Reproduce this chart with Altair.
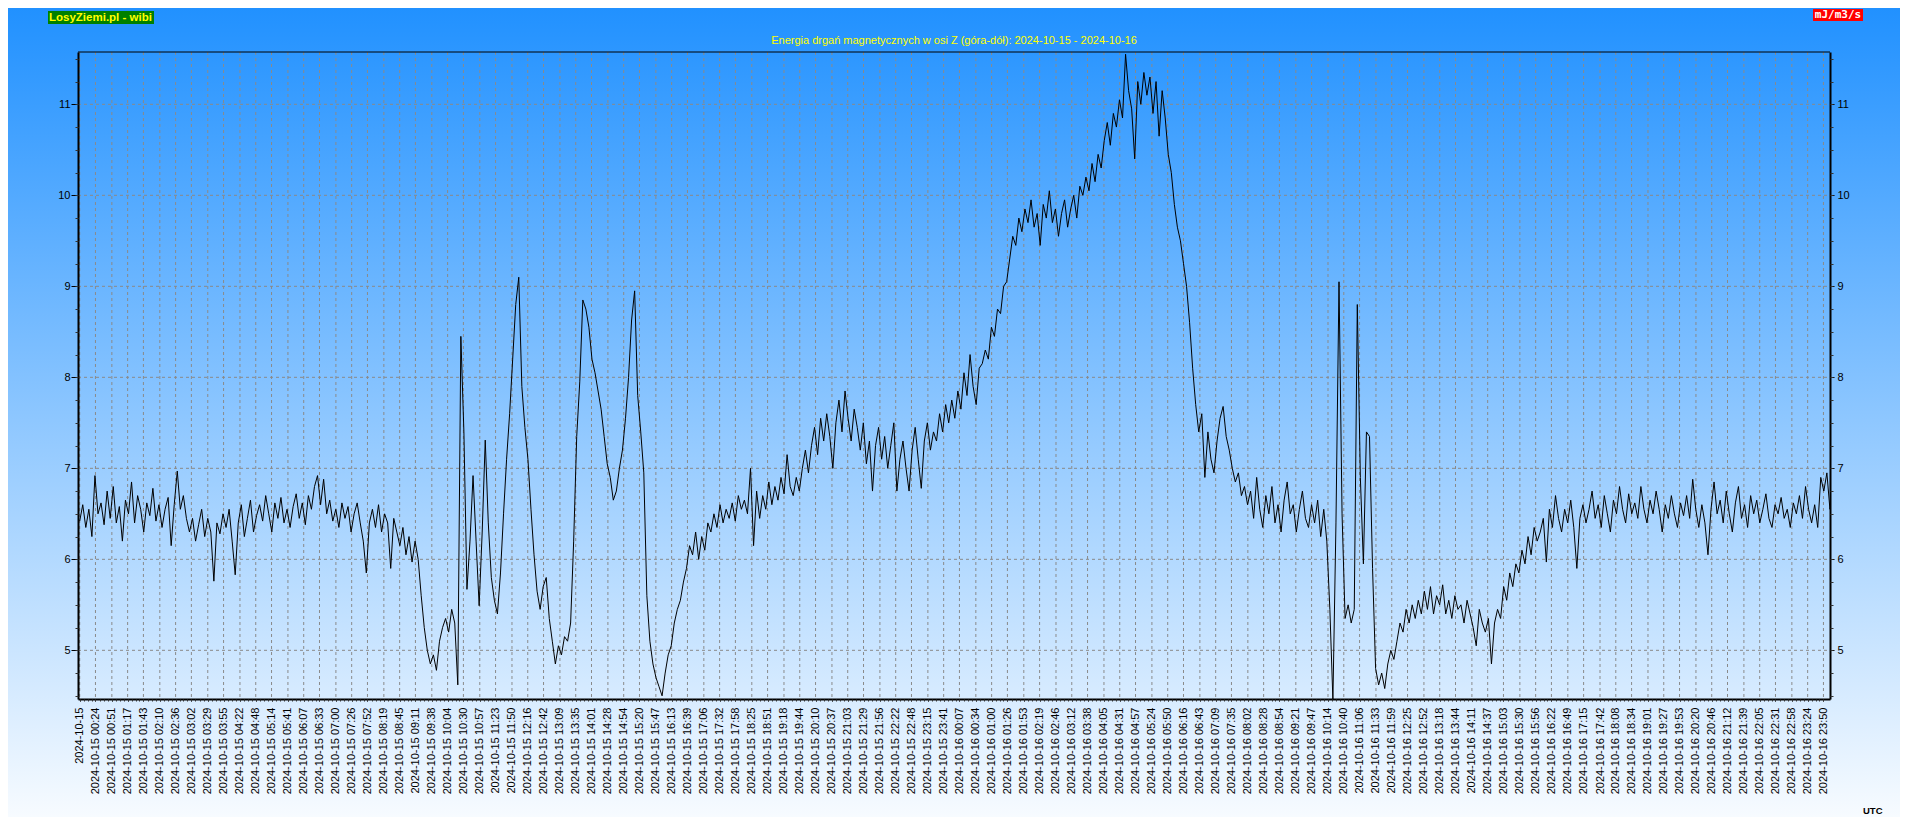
import altair as alt
import pandas as pd

# ---------------- series (mJ/m3/s), samples read every ~5 minutes ----------------
b01 = [6.42, 6.60, 6.35, 6.55, 6.25, 6.92, 6.50, 6.62, 6.38, 6.75, 6.45, 6.80,
       6.40, 6.58, 6.20, 6.65, 6.50, 6.85, 6.40, 6.70, 6.55, 6.30, 6.62, 6.48,
       6.78, 6.42, 6.60, 6.35, 6.55, 6.68, 6.15, 6.60, 6.97, 6.55, 6.70, 6.45,
       6.30, 6.45, 6.20, 6.38, 6.55, 6.25, 6.45, 6.30, 5.76, 6.40, 6.28, 6.50]
b02 = [6.35, 6.55, 6.20, 5.83, 6.40, 6.60, 6.25, 6.45, 6.65, 6.30, 6.48, 6.60,
       6.42, 6.70, 6.50, 6.30, 6.62, 6.45, 6.68, 6.40, 6.55, 6.35, 6.58, 6.72,
       6.45, 6.62, 6.38, 6.70, 6.55, 6.80, 6.92, 6.60, 6.88, 6.50, 6.65, 6.42,
       6.55, 6.35, 6.62, 6.45, 6.58, 6.30, 6.50, 6.62, 6.40, 6.20, 5.85, 6.40]
b03 = [6.55, 6.35, 6.60, 6.30, 6.50, 6.40, 5.90, 6.45, 6.30, 6.15, 6.35, 6.05,
       6.25, 5.97, 6.20, 6.00, 5.60, 5.25, 5.00, 4.85, 4.95, 4.78, 5.10, 5.25,
       5.35, 5.20, 5.45, 5.30, 4.62, 8.45, 7.40, 5.67, 6.20, 6.92, 6.20, 5.49,
       6.30, 7.31, 6.40, 5.80, 5.55, 5.40, 5.85, 6.50, 7.10, 7.60, 8.20, 8.80]
b04 = [9.10, 7.90, 7.45, 7.10, 6.55, 6.05, 5.65, 5.45, 5.70, 5.80, 5.35, 5.10,
       4.85, 5.05, 4.95, 5.15, 5.10, 5.30, 6.20, 7.35, 7.95, 8.85, 8.75, 8.55,
       8.20, 8.05, 7.85, 7.65, 7.35, 7.05, 6.90, 6.65, 6.75, 7.00, 7.20, 7.55,
       8.00, 8.63, 8.95, 7.80, 7.40, 6.95, 5.60, 5.10, 4.85, 4.70, 4.60, 4.50]
b05 = [4.75, 4.95, 5.05, 5.30, 5.45, 5.55, 5.75, 5.90, 6.15, 6.05, 6.30, 6.00,
       6.25, 6.10, 6.40, 6.30, 6.50, 6.35, 6.60, 6.40, 6.55, 6.45, 6.62, 6.42,
       6.70, 6.55, 6.65, 6.50, 7.00, 6.15, 6.75, 6.45, 6.70, 6.55, 6.85, 6.60,
       6.80, 6.65, 6.90, 6.72, 7.15, 6.80, 6.70, 6.90, 6.75, 7.00, 7.20, 6.95]
b06 = [7.25, 7.45, 7.15, 7.55, 7.30, 7.60, 7.35, 7.00, 7.50, 7.75, 7.40, 7.85,
       7.55, 7.30, 7.65, 7.45, 7.20, 7.50, 7.05, 7.30, 6.75, 7.25, 7.45, 7.10,
       7.35, 7.00, 7.25, 7.50, 6.75, 7.10, 7.30, 7.00, 6.75, 7.20, 7.45, 7.10,
       6.78, 7.30, 7.50, 7.20, 7.40, 7.30, 7.60, 7.40, 7.70, 7.50, 7.75, 7.55]
b07 = [7.85, 7.65, 8.05, 7.80, 8.25, 7.90, 7.70, 8.10, 8.15, 8.30, 8.20, 8.55,
       8.45, 8.75, 8.70, 9.00, 9.05, 9.30, 9.55, 9.45, 9.75, 9.60, 9.85, 9.70,
       9.95, 9.65, 9.80, 9.45, 9.90, 9.75, 10.05, 9.70, 9.85, 9.55, 9.80, 9.95,
       9.65, 9.85, 10.00, 9.75, 10.10, 10.00, 10.20, 10.05, 10.35, 10.15, 10.45, 10.30]
b08 = [10.60, 10.80, 10.55, 10.90, 10.75, 11.05, 10.85, 11.55, 11.15, 10.95, 10.40, 11.25,
       11.00, 11.35, 11.10, 11.30, 10.90, 11.25, 10.65, 11.15, 10.85, 10.45, 10.25, 9.90,
       9.65, 9.50, 9.25, 9.00, 8.60, 8.10, 7.70, 7.40, 7.60, 6.90, 7.40, 7.10,
       6.95, 7.30, 7.55, 7.68, 7.35, 7.20, 7.00, 6.85, 6.95, 6.70, 6.80, 6.60]
b09 = [6.75, 6.45, 6.90, 6.55, 6.35, 6.70, 6.50, 6.80, 6.40, 6.60, 6.30, 6.65,
       6.85, 6.50, 6.60, 6.30, 6.55, 6.75, 6.45, 6.35, 6.60, 6.40, 6.65, 6.25,
       6.55, 6.20, 5.45, 4.45, 6.40, 9.05, 6.50, 5.35, 5.50, 5.30, 5.45, 8.80,
       6.90, 5.95, 7.40, 7.35, 5.90, 4.80, 4.62, 4.75, 4.58, 4.85, 5.00, 4.90]
b10 = [5.10, 5.30, 5.20, 5.45, 5.30, 5.50, 5.35, 5.55, 5.40, 5.65, 5.45, 5.70,
       5.40, 5.60, 5.50, 5.72, 5.40, 5.55, 5.35, 5.60, 5.45, 5.50, 5.30, 5.55,
       5.40, 5.25, 5.05, 5.45, 5.30, 5.20, 5.35, 4.85, 5.30, 5.45, 5.35, 5.70,
       5.55, 5.85, 5.70, 5.95, 5.85, 6.10, 5.95, 6.25, 6.05, 6.35, 6.20, 6.30]
b11 = [6.45, 5.97, 6.55, 6.35, 6.70, 6.45, 6.30, 6.55, 6.40, 6.65, 6.35, 5.90,
       6.45, 6.60, 6.40, 6.55, 6.75, 6.45, 6.60, 6.35, 6.70, 6.50, 6.30, 6.65,
       6.50, 6.80, 6.55, 6.40, 6.72, 6.50, 6.62, 6.45, 6.80, 6.55, 6.40, 6.65,
       6.50, 6.75, 6.55, 6.30, 6.60, 6.45, 6.70, 6.50, 6.35, 6.62, 6.48, 6.70]
b12 = [6.45, 6.88, 6.55, 6.35, 6.60, 6.40, 6.05, 6.55, 6.85, 6.50, 6.65, 6.40,
       6.75, 6.50, 6.30, 6.62, 6.80, 6.45, 6.60, 6.35, 6.70, 6.50, 6.65, 6.40,
       6.55, 6.72, 6.45, 6.35, 6.60, 6.50, 6.68, 6.45, 6.55, 6.35, 6.62, 6.50,
       6.70, 6.45, 6.80, 6.55, 6.40, 6.60, 6.35, 6.90, 6.75, 6.95, 6.55, 6.70]

SAMPLE_START_MIN = -1.45   # minutes after 2024-10-15 00:00 UTC
SAMPLE_STEP_MIN = 5.022

# ---------------- axis tick labels ----------------
x_labels = ["2024-10-15"] + ["2024-10-15 " + s for s in [
    "00:24", "00:51", "01:17", "01:43", "02:10", "02:36", "03:02", "03:29", "03:55", "04:22",
    "04:48", "05:14", "05:41", "06:07", "06:33", "07:00", "07:26", "07:52", "08:19", "08:45",
    "09:11", "09:38", "10:04", "10:30", "10:57", "11:23", "11:50", "12:16", "12:42", "13:09",
    "13:35", "14:01", "14:28", "14:54", "15:20", "15:47", "16:13", "16:39", "17:06", "17:32",
    "17:58", "18:25", "18:51", "19:18", "19:44", "20:10", "20:37", "21:03", "21:29", "21:56",
    "22:22", "22:48", "23:15", "23:41"]] + ["2024-10-16 " + s for s in [
    "00:07", "00:34", "01:00", "01:26", "01:53", "02:19", "02:46", "03:12", "03:38", "04:05",
    "04:31", "04:57", "05:24", "05:50", "06:16", "06:43", "07:09", "07:35", "08:02", "08:28",
    "08:54", "09:21", "09:47", "10:14", "10:40", "11:06", "11:33", "11:59", "12:25", "12:52",
    "13:18", "13:44", "14:11", "14:37", "15:03", "15:30", "15:56", "16:22", "16:49", "17:15",
    "17:42", "18:08", "18:34", "19:01", "19:27", "19:53", "20:20", "20:46", "21:12", "21:39",
    "22:05", "22:31", "22:58", "23:24", "23:50"]]
y_labels = [5, 6, 7, 8, 9, 10, 11]
y_minor = [4.5 + 0.25 * i for i in range(29)]

TITLE = "Energia drgań magnetycznych w osi Z (góra-dół): 2024-10-15 - 2024-10-16"
BRAND = "LosyZiemi.pl - wibi"
UNIT = "mJ/m3/s"
TZ = "UTC"

# ---------------- build tables ----------------
series = b01 + b02 + b03 + b04 + b05 + b06 + b07 + b08 + b09 + b10 + b11 + b12
df = pd.DataFrame({
    "t": [SAMPLE_START_MIN + i * SAMPLE_STEP_MIN for i in range(len(series))],
    "v": series,
})


def label_minutes(s):
    if " " not in s:
        return -1.45
    d, hm = s.split(" ")
    day = 0 if d.endswith("15") else 1440
    h, m = hm.split(":")
    return day + int(h) * 60 + int(m) + 0.5


x_ticks = [label_minutes(s) for s in x_labels]
x_minor = []
for a, b in zip(x_ticks[:-1], x_ticks[1:]):
    for j in range(4):
        x_minor.append(round(a + j * (b - a) / 4, 3))
x_minor.append(x_ticks[-1])

label_expr = ("[" + ",".join("'" + s + "'" for s in x_labels) + "][indexof(["
              + ",".join(repr(v) for v in x_ticks) + "], datum.value)]")

W, H = 1752, 647
FONT = "Liberation Sans"
xs = alt.Scale(domain=[-4.25, 2881.3], nice=False, zero=False)
ys = alt.Scale(domain=[4.465, 11.575], nice=False, zero=False)
one = alt.Data(values=[{}])

bg = alt.Chart(one).mark_rect(
    fill=alt.Gradient(gradient="linear", x1=0, x2=0, y1=0, y2=1,
                      stops=[alt.GradientStop(color="#2191ff", offset=0),
                             alt.GradientStop(color="#f7fbff", offset=1)]),
    stroke=None,
).encode(x=alt.value(-70), x2=alt.value(W + 70), y=alt.value(-44), y2=alt.value(H + 118))

xgrid = alt.Chart(pd.DataFrame({"t": x_ticks})).mark_rule(
    color="#8a8a8a", strokeDash=[3, 3], strokeWidth=1
).encode(x=alt.X("t:Q", scale=xs, axis=None), y=alt.value(0), y2=alt.value(H))

ygrid = alt.Chart(pd.DataFrame({"v": y_labels})).mark_rule(
    color="#8a8a8a", strokeDash=[3, 3], strokeWidth=1
).encode(y=alt.Y("v:Q", scale=ys, axis=None), x=alt.value(0), x2=alt.value(W))

line = alt.Chart(df).mark_line(color="black", strokeWidth=1, clip=True).encode(
    x=alt.X("t:Q", scale=xs, title=None, axis=alt.Axis(
        values=x_ticks, labelExpr=label_expr, labelAngle=270, labelFont=FONT,
        labelFontSize=11, labelColor="black", labelPadding=6, labelOverlap=False,
        labelFlush=False, labelBound=False, tickSize=2, tickColor="black",
        domainColor="black", domainWidth=2, grid=False, orient="bottom", zindex=1)),
    y=alt.Y("v:Q", scale=ys, title=None, axis=alt.Axis(
        values=y_labels, orient="left", labelFont=FONT, labelFontSize=11,
        labelColor="black", labelPadding=1, tickSize=7, tickColor="black",
        domainColor="black", domainWidth=2, grid=False, labelFlush=False, zindex=1)),
)

top_border = alt.Chart(one).mark_rule(color="black", strokeWidth=1).encode(
    x=alt.value(0), x2=alt.value(W), y=alt.value(0))

yright = alt.Chart(pd.DataFrame({"v": y_labels})).mark_point(opacity=0).encode(
    y=alt.Y("v:Q", scale=ys, title=None, axis=alt.Axis(
        values=y_labels, orient="right", labelFont=FONT, labelFontSize=11,
        labelColor="black", labelPadding=3, tickSize=4, tickColor="black",
        domainColor="black", domainWidth=2, grid=False, labelFlush=False, zindex=1)))

yminor_l = alt.Chart(pd.DataFrame({"v": y_minor})).mark_point(opacity=0).encode(
    y=alt.Y("v:Q", scale=ys, title=None, axis=alt.Axis(
        values=y_minor, orient="left", labels=False, domain=False, tickSize=3,
        tickColor="#333333", grid=False, zindex=1)))

yminor_r = alt.Chart(pd.DataFrame({"v": y_minor})).mark_point(opacity=0).encode(
    y=alt.Y("v:Q", scale=ys, title=None, axis=alt.Axis(
        values=y_minor, orient="right", labels=False, domain=False, tickSize=3,
        tickColor="#333333", grid=False, zindex=1)))

xminor = alt.Chart(pd.DataFrame({"t": x_minor})).mark_point(opacity=0).encode(
    x=alt.X("t:Q", scale=xs, title=None, axis=alt.Axis(
        values=x_minor, orient="bottom", labels=False, domain=False, tickSize=2,
        tickColor="#333333", grid=False, zindex=1)))

title = alt.Chart(one).mark_text(
    text=TITLE, font=FONT, fontSize=11, color="#ffff00", align="center", baseline="middle"
).encode(x=alt.value(W / 2), y=alt.value(-11))

brand_box = alt.Chart(one).mark_rect(color="#008000").encode(
    x=alt.value(-30), x2=alt.value(76), y=alt.value(-41), y2=alt.value(-28))
brand = alt.Chart(one).mark_text(
    text=BRAND, font=FONT, fontSize=11.5, fontWeight="bold", color="#ffff00",
    align="left", baseline="middle"
).encode(x=alt.value(-29), y=alt.value(-34.5))

unit_box = alt.Chart(one).mark_rect(color="#ff0000").encode(
    x=alt.value(1735), x2=alt.value(1785), y=alt.value(-43), y2=alt.value(-31))
unit = alt.Chart(one).mark_text(
    text=UNIT, font="DejaVu Sans Mono", fontSize=11, fontWeight="bold", color="white",
    align="center", baseline="middle"
).encode(x=alt.value(1760), y=alt.value(-37))

utc = alt.Chart(one).mark_text(
    text=TZ, font=FONT, fontSize=9.5, fontWeight="bold", color="black",
    align="left", baseline="middle"
).encode(x=alt.value(1785), y=alt.value(759))

chart = alt.layer(
    bg, xgrid, ygrid, line, top_border, yright, yminor_l, yminor_r, xminor,
    title, brand_box, brand, unit_box, unit, utc,
).resolve_scale(x="shared", y="shared").resolve_axis(
    x="independent", y="independent"
).properties(
    width=W, height=H,
    autosize=alt.AutoSizeParams(type="none"),
    padding={"left": 70, "top": 44, "right": 70, "bottom": 118},
).configure_view(stroke=None).configure(background="white")

chart.save("out.html", embed_options={"renderer": "svg", "actions": False})
